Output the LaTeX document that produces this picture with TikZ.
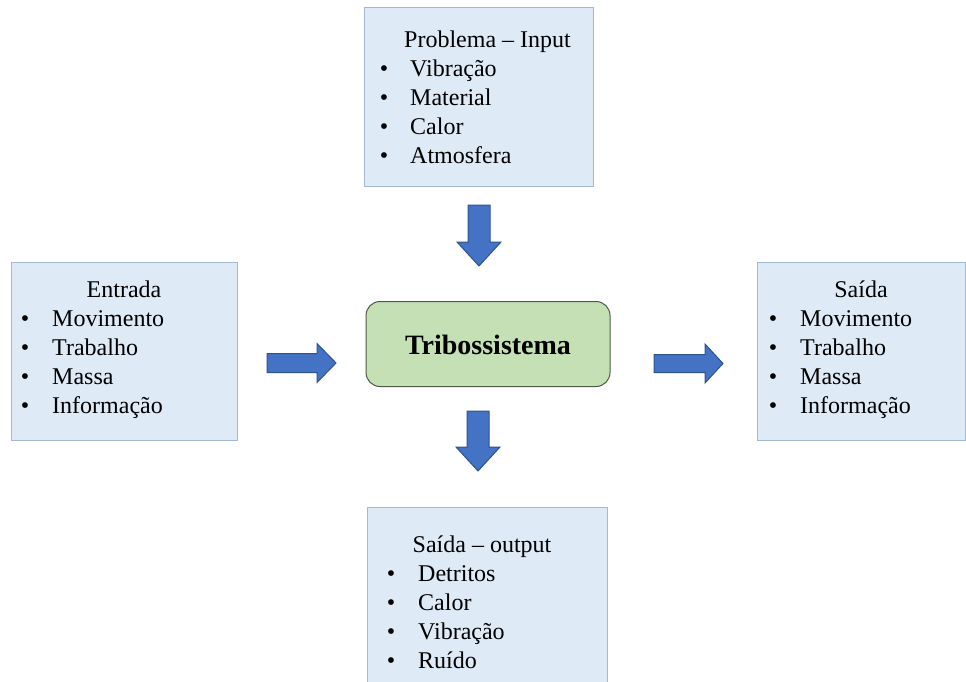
\documentclass[tikz,border=0pt]{standalone}
\usepackage{fontspec}
\setmainfont{Liberation Serif}
\begin{document}
\begin{tikzpicture}[x=1pt,y=-1pt,
  infobox/.style={draw=boxline,fill=boxfill,line width=0.8pt},
  corebox/.style={draw=coreline,fill=corefill,line width=1pt,rounded corners=14pt},
  blockarrow/.style={draw=arrline,fill=arrfill,line width=1pt,line join=miter},
  txt/.style={inner sep=0pt,anchor=base,font=\fontsize{24}{28}\selectfont},
  item/.style={txt,anchor=base west},
  dot/.style={txt,anchor=base}]
\definecolor{boxfill}{HTML}{DEEAF6}
\definecolor{boxline}{HTML}{A3B9D1}
\definecolor{corefill}{HTML}{C5E0B4}
\definecolor{coreline}{HTML}{4E5A4A}
\definecolor{arrfill}{HTML}{4472C4}
\definecolor{arrline}{HTML}{2F528F}
\useasboundingbox (0,0) rectangle (966,682);

% boxes
\draw[infobox] (364,7) rectangle (593,186);
\draw[infobox] (11,262) rectangle (237,440);
\draw[infobox] (757,262) rectangle (965,440);
\draw[infobox] (367,507) rectangle (607,690);
\node[corebox,minimum width=244pt,minimum height=85pt] (core) at (488,344) {};
\node[inner sep=0pt,anchor=base,font=\fontsize{28}{30}\selectfont\bfseries] (coretext) at (488,354) {Tribossistema};

% problem / input list
\node[txt] (pt) at (487.5,48) {Problema – Input};
\foreach \t [count=\i] in {Vibração,Material,Calor,Atmosfera}{
  \node[dot] (pb\i) at (384,48+29*\i) {•};
  \node[item] (pi\i) at (410,48+29*\i) {\t};
}

% input list
\node[txt] (et) at (124,297) {Entrada};
\foreach \t [count=\i] in {Movimento,Trabalho,Massa,Informação}{
  \node[dot] (eb\i) at (25,297+29*\i) {•};
  \node[item] (ei\i) at (52,297+29*\i) {\t};
}

% output list
\node[txt] (st) at (861,297) {Saída};
\foreach \t [count=\i] in {Movimento,Trabalho,Massa,Informação}{
  \node[dot] (sb\i) at (773,297+29*\i) {•};
  \node[item] (si\i) at (800,297+29*\i) {\t};
}

% output list (losses)
\node[txt] (ot) at (482,552) {Saída – output};
\foreach \t [count=\i] in {Detritos,Calor,Vibração,Ruído}{
  \node[dot] (ob\i) at (391,552+29*\i) {•};
  \node[item] (oi\i) at (418,552+29*\i) {\t};
}

% block arrows
\coordinate (aL) at (267,363);
\draw[blockarrow] (aL) ++(0,-9.5) -- ++(50,0) -- ++(0,-10) -- ++(19,19.5) -- ++(-19,19.5) -- ++(0,-10) -- ++(-50,0) -- cycle;
\coordinate (aR) at (654,363.5);
\draw[blockarrow] (aR) ++(0,-9) -- ++(51,0) -- ++(0,-10.5) -- ++(18,19.5) -- ++(-18,19.5) -- ++(0,-10.5) -- ++(-51,0) -- cycle;
\coordinate (aT) at (479,205);
\draw[blockarrow] (aT) ++(-11,0) -- ++(0,37) -- ++(-11,0) -- ++(22,24) -- ++(22,-24) -- ++(-11,0) -- ++(0,-37) -- cycle;
\coordinate (aB) at (478,411);
\draw[blockarrow] (aB) ++(-11,0) -- ++(0,36) -- ++(-11,0) -- ++(22,24) -- ++(22,-24) -- ++(-11,0) -- ++(0,-36) -- cycle;
\end{tikzpicture}
\end{document}
